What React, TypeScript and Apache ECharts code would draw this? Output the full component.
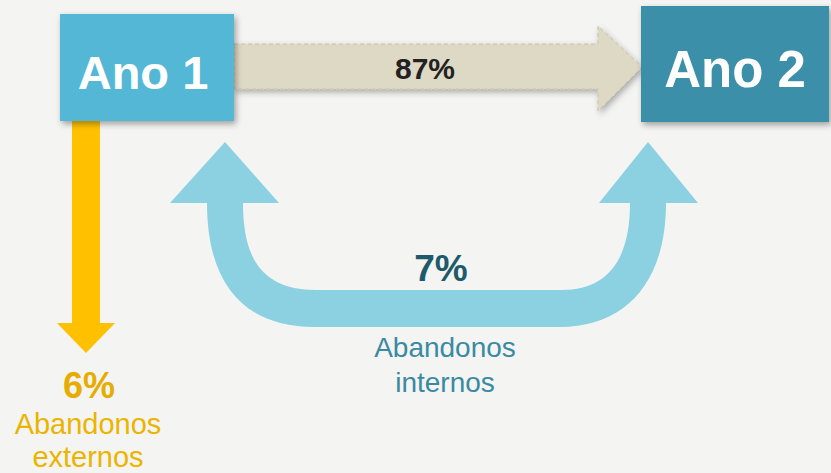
import React, { useEffect, useRef } from "react";
import * as echarts from "echarts";

const stages = ["Ano 1", "Ano 2"];
const flowNames = ["Transição", "Abandonos internos", "Abandonos externos"];
const flowValues = [87, 7, 6];

const uPath =
  "M225,142 L279,203 L243,203 C243,256 260,290 316,290 L562,290 C606,290 630,262 630,203 L599,203 L648,142 L698,203 L666,203 C666,284 624,327 560,327 L314,327 C246,327 207,286 207,203 L170,203 Z";

echarts.graphic.registerShape("uArrow", echarts.graphic.extendPath(uPath, {}) as any);

const pct = (v: number) => `${v}%`;

export default function App() {
  const ref = useRef<HTMLDivElement>(null);
  useEffect(() => {
    document.body.style.margin = "0";
    const chart = echarts.init(ref.current!, null, { renderer: "svg" });
    const font = "Liberation Sans, Arial, sans-serif";
    const [internos, externos] = [flowNames[1].split(" "), flowNames[2].split(" ")];
    chart.setOption({
      animation: false,
      backgroundColor: "#f4f4f2",
      graphic: [
        {
          type: "polygon",
          shape: {
            points: [
              [234, 44], [598, 44], [598, 26], [642, 67], [598, 111], [598, 89], [234, 89],
            ],
          },
          style: {
            fill: "#ded9c4",
            stroke: "#c8c2a8",
            lineWidth: 1,
            lineDash: [4, 3],
            shadowBlur: 6,
            shadowOffsetX: 2,
            shadowOffsetY: 3,
            shadowColor: "rgba(0,0,0,0.3)",
          },
        },
        {
          type: "polygon",
          shape: {
            points: [
              [72, 118], [100, 118], [100, 323], [115, 323], [86, 353], [57, 323], [72, 323],
            ],
          },
          style: { fill: "#ffc000" },
        },
        {
          type: "uArrow",
          x: 0,
          y: 0,
          style: { fill: "#8bd1e2" },
        },
        {
          type: "rect",
          shape: { x: 60, y: 14, width: 174, height: 107 },
          style: {
            fill: "#53b7d5",
            shadowBlur: 6,
            shadowOffsetX: 2,
            shadowOffsetY: 3,
            shadowColor: "rgba(0,0,0,0.35)",
          },
        },
        {
          type: "rect",
          shape: { x: 641, y: 6, width: 188, height: 116 },
          style: {
            fill: "#3a8fa8",
            shadowBlur: 6,
            shadowOffsetX: 2,
            shadowOffsetY: 3,
            shadowColor: "rgba(0,0,0,0.35)",
          },
        },
        {
          type: "text",
          style: {
            text: stages[0], x: 143, y: 72, fill: "#ffffff",
            font: `bold 47px ${font}`, textAlign: "center", textVerticalAlign: "middle",
          },
        },
        {
          type: "text",
          style: {
            text: stages[1], x: 735, y: 69, fill: "#ffffff",
            font: `bold 51px ${font}`, textAlign: "center", textVerticalAlign: "middle",
          },
        },
        {
          type: "text",
          style: {
            text: pct(flowValues[0]), x: 425, y: 68, fill: "#222222",
            font: `bold 30px ${font}`, textAlign: "center", textVerticalAlign: "middle",
          },
        },
        {
          type: "text",
          style: {
            text: pct(flowValues[1]), x: 441, y: 268, fill: "#1e5a6b",
            font: `bold 37px ${font}`, textAlign: "center", textVerticalAlign: "middle",
          },
        },
        {
          type: "text",
          style: {
            text: internos[0], x: 445, y: 347, fill: "#3a8aa3",
            font: `28px ${font}`, textAlign: "center", textVerticalAlign: "middle",
          },
        },
        {
          type: "text",
          style: {
            text: internos[1], x: 445, y: 382, fill: "#3a8aa3",
            font: `28px ${font}`, textAlign: "center", textVerticalAlign: "middle",
          },
        },
        {
          type: "text",
          style: {
            text: pct(flowValues[2]), x: 89, y: 385, fill: "#e6ac00",
            font: `bold 36px ${font}`, textAlign: "center", textVerticalAlign: "middle",
          },
        },
        {
          type: "text",
          style: {
            text: externos[0], x: 88, y: 424, fill: "#ebb400",
            font: `29px ${font}`, textAlign: "center", textVerticalAlign: "middle",
          },
        },
        {
          type: "text",
          style: {
            text: externos[1], x: 88, y: 457, fill: "#ebb400",
            font: `29px ${font}`, textAlign: "center", textVerticalAlign: "middle",
          },
        },
      ],
    });
    return () => chart.dispose();
  }, []);
  return (
    <div
      ref={ref}
      style={{ position: "fixed", left: 0, top: 0, width: 831, height: 473 }}
    />
  );
}
